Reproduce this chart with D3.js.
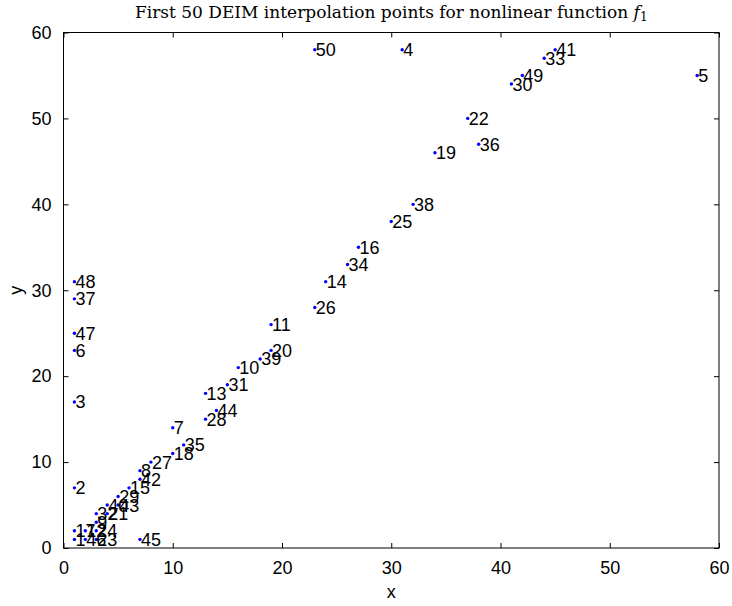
<!DOCTYPE html>
<html>
<head>
<meta charset="utf-8">
<script src="https://cdn.jsdelivr.net/npm/d3@7"></script>
<style>
  html, body { margin: 0; padding: 0; background: #fff; }
  svg { display: block; }
</style>
</head>
<body>
<svg id="chart" width="732" height="606"></svg>
<script>
// DEIM interpolation point order, grid column (x) and grid row (y)
const pointLabels = d3.range(1, 51);
const xValues = [1, 1, 1, 31, 58, 1, 10, 7, 3, 16,
                 19, 2, 13, 24, 6, 27, 1, 10, 34, 19,
                 4, 37, 3, 3, 30, 23, 8, 13, 5, 41,
                 15, 3, 44, 26, 11, 38, 1, 32, 18, 4,
                 45, 7, 5, 14, 7, 2, 1, 1, 42, 23];
const yValues = [1, 7, 17, 58, 55, 23, 14, 9, 3, 21,
                 26, 2, 18, 31, 7, 35, 2, 11, 46, 23,
                 4, 50, 1, 2, 38, 28, 10, 15, 6, 54,
                 19, 4, 57, 33, 12, 47, 29, 40, 22, 5,
                 58, 8, 5, 16, 1, 1, 25, 31, 55, 58];
const xTicks = [0, 10, 20, 30, 40, 50, 60];
const yTicks = [0, 10, 20, 30, 40, 50, 60];

const points = pointLabels.map((id, i) => ({ id, x: xValues[i], y: yValues[i] }));

const svg = d3.select("#chart");
const margin = { left: 63.5, right: 13, top: 32.5, bottom: 58 };
const W = 732, H = 606;
const x = d3.scaleLinear().domain([0, 60]).range([margin.left, W - margin.right]);
const y = d3.scaleLinear().domain([0, 60]).range([H - margin.bottom, margin.top]);

const sans = "'Liberation Sans', Arial, Helvetica, sans-serif";
const tickLen = 5;

// bottom and left axes with labels, ticks pointing inward
const xAxis = d3.axisBottom(x).tickValues(xTicks).tickSize(-tickLen).tickPadding(13);
const yAxis = d3.axisLeft(y).tickValues(yTicks).tickSize(-tickLen).tickPadding(12);
// mirrored axes on top and right, ticks only
const xTop = d3.axisTop(x).tickValues(xTicks).tickSize(-tickLen).tickFormat("");
const yRight = d3.axisRight(y).tickValues(yTicks).tickSize(-tickLen).tickFormat("");

function styleAxis(g) {
  g.select(".domain").remove();
  g.selectAll(".tick line").attr("stroke", "#000").attr("stroke-width", 1);
  g.selectAll(".tick text").attr("fill", "#000")
    .style("font-family", sans).style("font-size", "18px");
}

svg.append("g").attr("transform", `translate(0,${y(0)})`).call(xAxis).call(styleAxis);
svg.append("g").attr("transform", `translate(${x(0)},0)`).call(yAxis).call(styleAxis);
svg.append("g").attr("transform", `translate(0,${y(60)})`).call(xTop).call(styleAxis);
svg.append("g").attr("transform", `translate(${x(60)},0)`).call(yRight).call(styleAxis);

// plot box
svg.append("rect")
  .attr("x", x(0)).attr("y", y(60))
  .attr("width", x(60) - x(0)).attr("height", y(0) - y(60))
  .attr("fill", "none").attr("stroke", "#000").attr("stroke-width", 1);

// interpolation points
svg.append("g").selectAll("circle").data(points).join("circle")
  .attr("cx", d => x(d.x)).attr("cy", d => y(d.y))
  .attr("r", 1.7).attr("fill", "#0000ff");

// point order labels
svg.append("g").selectAll("text").data(points).join("text")
  .attr("x", d => x(d.x) + 1).attr("y", d => y(d.y) + 6.5)
  .style("font-family", sans).style("font-size", "18px").attr("fill", "#000")
  .text(d => d.id);

// axis titles
svg.append("text").attr("x", (x(0) + x(60)) / 2).attr("y", 598)
  .attr("text-anchor", "middle").style("font-family", sans).style("font-size", "18px")
  .text("x");
svg.append("text").attr("transform", `translate(22,${(y(0) + y(60)) / 2}) rotate(-90)`)
  .attr("text-anchor", "middle").style("font-family", sans).style("font-size", "18px")
  .text("y");

// title
const title = svg.append("text").attr("x", (x(0) + x(60)) / 2).attr("y", 18)
  .attr("text-anchor", "middle")
  .style("font-family", "'DejaVu Serif', 'Liberation Serif', serif").style("font-size", "17px");
title.append("tspan").text("First 50 DEIM interpolation points for nonlinear function ");
title.append("tspan").style("font-style", "italic").text("f");
title.append("tspan").attr("dy", 3).style("font-size", "12px").text("1");
</script>
</body>
</html>
